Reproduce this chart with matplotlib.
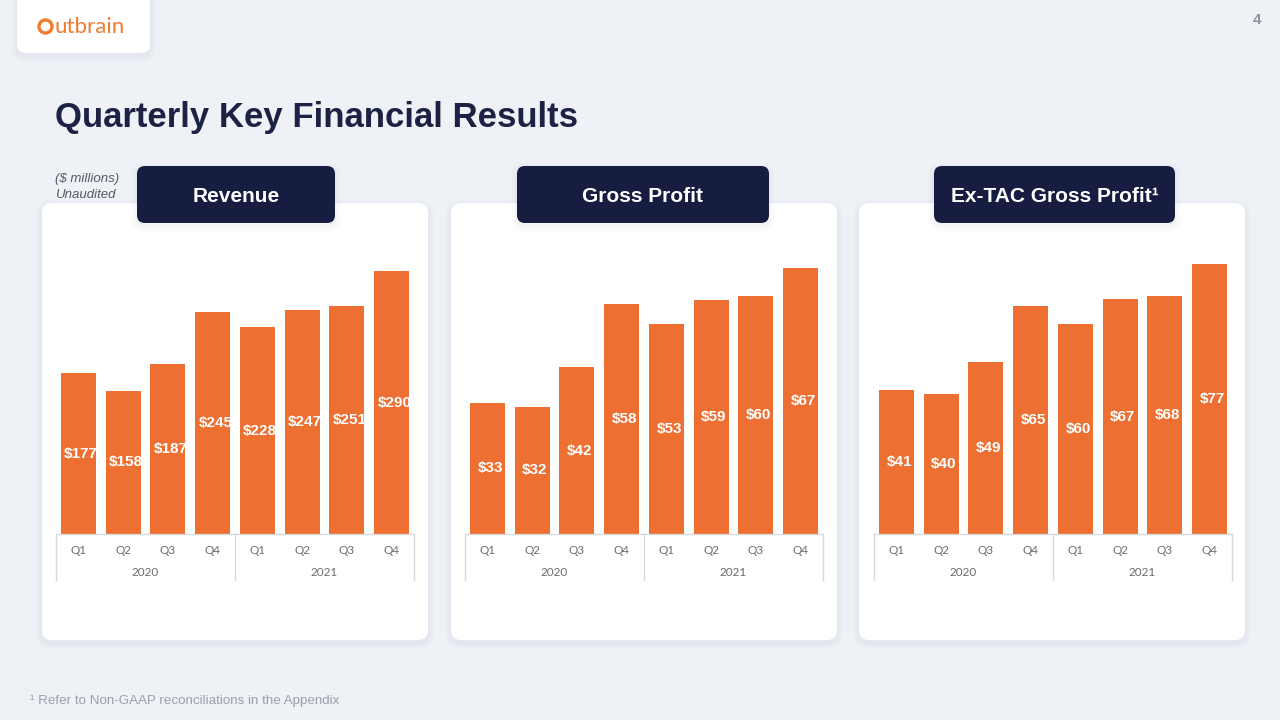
import matplotlib
matplotlib.use("Agg")
import matplotlib.pyplot as plt
from matplotlib.patches import FancyBboxPatch, Circle
import matplotlib.transforms as mtransforms

quarters = ["Q1", "Q2", "Q3", "Q4", "Q1", "Q2", "Q3", "Q4"]
years = ["2020", "2021"]
revenue = [177, 158, 187, 245, 228, 247, 251, 290]
gross_profit = [33, 32, 42, 58, 53, 59, 60, 67]
ex_tac = [41, 40, 49, 65, 60, 67, 68, 77]
panel_titles = ["Revenue", "Gross Profit", "Ex-TAC Gross Profit\u00b9"]

ORANGE = "#ED7032"
NAVY = "#161D40"
BG = "#EEF1F5"
FONT = "Liberation Sans"

W, H = 1280, 720
fig = plt.figure(figsize=(12.8, 7.2), dpi=100, facecolor=BG)

# background axes in pixel units (y down)
bg = fig.add_axes([0, 0, 1, 1], zorder=0)
bg.set_xlim(0, W)
bg.set_ylim(H, 0)
bg.axis("off")


def rbox(ax, x0, y0, x1, y1, color, r, shadow=False, z=1):
    if shadow:
        for i, a in enumerate([0.025, 0.025, 0.03]):
            g = 6 - 2 * i
            ax.add_patch(FancyBboxPatch((x0 - g, y0 - g + 3), x1 - x0 + 2 * g, y1 - y0 + 2 * g,
                                        boxstyle=f"round,pad=0,rounding_size={r + g}",
                                        fc="#8090A8", ec="none", alpha=a, zorder=z))
    ax.add_patch(FancyBboxPatch((x0, y0), x1 - x0, y1 - y0,
                                boxstyle=f"round,pad=0,rounding_size={r}",
                                fc=color, ec="none", zorder=z + 1))


# logo box
rbox(bg, 17, -10, 150, 53, "white", 9, shadow=True)
bg.add_patch(Circle((45.5, 26.5), 6.5, fc="none", ec="#F07B2E", lw=2.4, zorder=5))
bg.text(54, 27, "utbrain", color="#F07B2E", fontsize=16, family="Lato",
        va="center", ha="left", zorder=5)

bg.text(1257, 20, "4", color="#8A93A3", fontsize=11, fontweight="bold",
        family=FONT, ha="center", va="center")
bg.text(55, 118, "Quarterly Key Financial Results", color="#1B2244", fontsize=25,
        fontweight="bold", family=FONT, ha="left", va="center")
bg.text(55, 179, "($ millions)", color="#555A66", fontsize=9.5, style="italic",
        family=FONT, ha="left", va="center")
bg.text(55, 195, "Unaudited", color="#555A66", fontsize=9.5, style="italic",
        family=FONT, ha="left", va="center")
bg.text(30, 701, "\u00b9 Refer to Non-GAAP reconciliations in the Appendix", color="#9AA1AC",
        fontsize=9.6, family=FONT, ha="left", va="center")

card_left = [42, 451, 859]
title_boxes = [(137, 335), (517, 769), (934, 1175)]
axes_left = [56, 465, 874]
ymax_factor = [1.118, 1.105, 1.089]
series = [revenue, gross_profit, ex_tac]

for k in range(3):
    cx = card_left[k]
    rbox(bg, cx, 203, cx + 386, 640, "white", 10, shadow=True)
    tx0, tx1 = title_boxes[k]
    rbox(bg, tx0, 166, tx1, 223, NAVY, 8, shadow=True, z=4)
    bg.text((tx0 + tx1) / 2, 196, panel_titles[k], color="white", fontsize=15,
            fontweight="bold", family=FONT, ha="center", va="center", zorder=7)

    vals = series[k]
    ax = fig.add_axes([axes_left[k] / W, 1 - 534 / H, 358 / W, 294 / H], zorder=2)
    ax.set_facecolor("none")
    x = list(range(len(vals)))
    ax.bar(x, vals, width=0.78, color=ORANGE, zorder=2)
    ax.set_xlim(-0.5, len(vals) - 0.5)
    ax.set_ylim(0, max(vals) * ymax_factor[k])
    for s in ["top", "right", "left"]:
        ax.spines[s].set_visible(False)
    ax.spines["bottom"].set_color("#D9D9D9")
    ax.spines["bottom"].set_linewidth(1)
    ax.set_yticks([])
    ax.set_xticks(x)
    ax.set_xticklabels(quarters, fontsize=8.5, color="#6B6B6B", family="Lato")
    ax.tick_params(axis="x", length=0, pad=8)

    for xi, v in zip(x, vals):
        ax.annotate(f"${v}", (xi, v / 2), xytext=(2, 0), textcoords="offset points",
                    ha="center", va="center", color="white", fontsize=11,
                    fontweight="bold", family=FONT, zorder=3)

    trans = mtransforms.blended_transform_factory(ax.transData, ax.transAxes)
    # group separators
    for sx in [-0.5, 3.5, 7.5]:
        ax.plot([sx, sx], [0, -46 / 294], color="#D9D9D9", lw=1, transform=trans,
                clip_on=False)
    for i, yr in enumerate(years):
        ax.text(1.5 + 4 * i, -39 / 294, yr, transform=trans, ha="center", va="center",
                fontsize=8.5, color="#6B6B6B", family="Lato")

fig.savefig("out.png", dpi=100, facecolor=BG)
